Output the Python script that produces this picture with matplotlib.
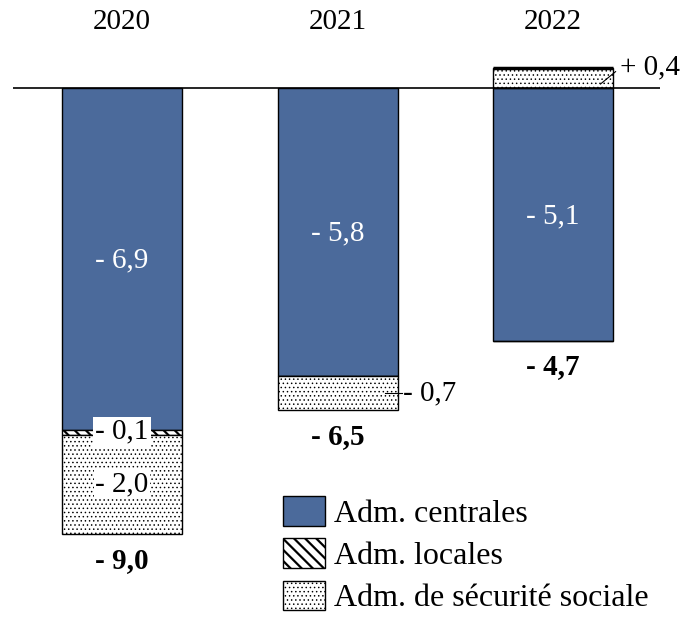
import matplotlib.pyplot as plt
from matplotlib.patches import Patch

plt.rcParams["font.family"] = ["Liberation Serif", "DejaVu Serif"]

years = ["2020", "2021", "2022"]
centrales = [-6.9, -5.8, -5.1]
locales = [-0.1, 0.0, 0.0]
securite = [-2.0, -0.7, 0.4]
totaux = [-9.0, -6.5, -4.7]
series_names = ["Adm. centrales", "Adm. locales", "Adm. de sécurité sociale"]

BLUE = "#4B6A9B"
LINES_HATCH = "\\\\\\"
DOTS_HATCH = "...."
LINES_LW = 1.6
DOTS_LW = 0.55


def fmt(v):
    sign = "+" if v > 0 else "-"
    return f"{sign} {abs(v):.1f}".replace(".", ",")


fig = plt.figure(figsize=(6.88, 6.32), dpi=100)
ax = fig.add_axes([0, 0, 1, 1])
ax.set_xlim(-0.566, 2.626)
ax.set_ylim(-10.968, 1.774)
ax.axis("off")

x = range(len(years))
w = 0.557

# stacking (negatives go down from 0, positives go up from 0)
loc_bottom = centrales
soc_bottom = [c + l if s < 0 else 0 for c, l, s in zip(centrales, locales, securite)]

ax.bar(x, centrales, w, color=BLUE, edgecolor="black", linewidth=1, zorder=2)
with plt.rc_context({"hatch.linewidth": LINES_LW}):
    ax.bar(x, locales, w, bottom=loc_bottom, color="white", edgecolor="black",
           hatch=LINES_HATCH, linewidth=1, zorder=2)
with plt.rc_context({"hatch.linewidth": DOTS_LW}):
    ax.bar(x, securite, w, bottom=soc_bottom, color="white", edgecolor="black",
           hatch=DOTS_HATCH, linewidth=1, zorder=2)

ax.hlines(0, -0.506, 2.497, color="black", linewidth=1.2, zorder=3)
# thicker top edge on the positive 2022 piece
ax.hlines(securite[2], 2 - w / 2, 2 + w / 2, color="black", linewidth=2.5, zorder=3)

fs = 21
for i, yr in enumerate(years):
    ax.text(i, 1.33, yr, ha="center", va="center", fontsize=fs)
    ax.text(i, centrales[i] / 2 - 0.03, fmt(centrales[i]), ha="center", va="center",
            fontsize=fs, color="white", zorder=4)
    low = centrales[i] + locales[i] + min(securite[i], 0)
    ax.text(i, low - 0.52, fmt(totaux[i]), ha="center", va="center",
            fontsize=fs, fontweight="bold")

# 2020 small pieces
ax.text(0, loc_bottom[0] - 0.03, fmt(locales[0]), ha="center", va="center", fontsize=fs,
        zorder=4, bbox=dict(facecolor="white", edgecolor="none", pad=1.5))
ax.text(0, soc_bottom[0] + securite[0] / 2, fmt(securite[0]), ha="center", va="center",
        fontsize=fs, zorder=4, bbox=dict(facecolor="white", edgecolor="none", pad=1))

# 2021 social with leader
mid21 = soc_bottom[1] + securite[1] / 2
ax.plot([1 + 0.22, 1 + 0.30], [mid21, mid21], color="black", linewidth=0.8, zorder=4)
ax.text(1 + 0.305, mid21, fmt(securite[1]), ha="left", va="center", fontsize=fs)

# 2022 social with leader
ax.plot([2 + 0.22, 2 + 0.29], [0.08, 0.33], color="black", linewidth=0.8, zorder=4)
ax.text(2 + 0.31, 0.42, fmt(securite[2]), ha="left", va="center", fontsize=fs)

handles = [
    Patch(facecolor=BLUE, edgecolor="black", linewidth=1),
    Patch(facecolor="white", edgecolor="black", hatch=LINES_HATCH, linewidth=1),
    Patch(facecolor="white", edgecolor="black", hatch=DOTS_HATCH, linewidth=1),
]
leg = ax.legend(handles, series_names, loc="upper left",
                bbox_to_anchor=(283 / 688, 1 - 496 / 632),
                bbox_transform=fig.transFigure, frameon=False, fontsize=23, borderpad=0,
                borderaxespad=0, handlelength=1.3, handleheight=1.05, handletextpad=0.3,
                labelspacing=0.3)
legend_patches = leg.get_patches()
for p, lw in zip(legend_patches[1:], [LINES_LW, DOTS_LW]):
    if hasattr(p, "set_hatch_linewidth"):
        p.set_hatch_linewidth(lw)
    else:
        p._hatch_linewidth = lw

fig.savefig("out.png", dpi=100)
